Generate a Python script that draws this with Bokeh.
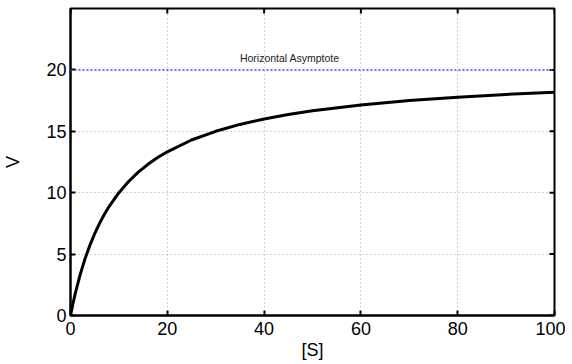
from bokeh.plotting import figure
from bokeh.models import FixedTicker, Span, Range1d
from bokeh.core.properties import value
from bokeh.embed import file_html
from bokeh.resources import INLINE
import math

# Data
S = [0, 0.5, 1, 2, 3, 4, 5, 6, 7, 8, 10, 12, 14, 16, 18, 20, 25, 30, 35, 40, 45, 50, 60, 70, 80, 90, 100]
V = [0, 0.95, 1.82, 3.33, 4.62, 5.71, 6.67, 7.5, 8.24, 8.89, 10, 10.91, 11.67, 12.31, 12.86, 13.33,
     14.29, 15, 15.56, 16, 16.36, 16.67, 17.14, 17.5, 17.78, 18, 18.18]
asymptote = 20
label_x = [35]
label_y = [21]
label_text = ["Horizontal Asymptote"]
x_ticks = [0, 20, 40, 60, 80, 100]
y_ticks = [0, 5, 10, 15, 20]
x_min, x_max = 0, 100
y_min, y_max = 0, 25

FONT = "Liberation Sans"

p = figure(frame_width=484, frame_height=307, output_backend="svg", toolbar_location=None,
           x_range=Range1d(x_min, x_max), y_range=Range1d(y_min, y_max),
           x_axis_label="[S]", y_axis_label="V",
           min_border_left=64, min_border_top=8, min_border_right=11, min_border_bottom=44)
p.background_fill_color = "white"
p.border_fill_color = "white"
p.outline_line_color = "black"
p.outline_line_width = 2

for g in (p.xgrid, p.ygrid):
    g.grid_line_color = "#a0a0a0"
    g.grid_line_dash = "1 3"
    g.grid_line_width = 1
p.xgrid.ticker = FixedTicker(ticks=x_ticks)
p.ygrid.ticker = FixedTicker(ticks=y_ticks)

for ax, ticks in ((p.xaxis[0], x_ticks), (p.yaxis[0], y_ticks)):
    ax.ticker = FixedTicker(ticks=ticks)
    ax.axis_line_color = "black"
    ax.axis_line_width = 2
    ax.major_tick_in = 5
    ax.major_tick_out = 0
    ax.major_tick_line_width = 2
    ax.minor_tick_line_color = None
    ax.major_label_text_font = FONT
    ax.major_label_text_font_size = "18px"
    ax.major_label_text_color = "black"
    ax.axis_label_text_font = FONT
    ax.axis_label_text_font_size = "18px"
    ax.axis_label_text_font_style = "normal"
    ax.axis_label_text_color = "black"

p.xaxis[0].major_label_standoff = 6
p.xaxis[0].axis_label_standoff = 2
p.yaxis[0].major_label_standoff = 4
p.yaxis[0].axis_label_standoff = 20

# inward ticks on the top and right edges (half of each dash is clipped by the frame)
p.scatter(x_ticks, [y_max] * len(x_ticks), marker="dash", size=10, angle=math.pi / 2,
          line_color="black", line_width=2)
p.scatter([x_max] * len(y_ticks), y_ticks, marker="dash", size=10,
          line_color="black", line_width=2)

p.add_layout(Span(location=asymptote, dimension="width", line_color="#4a4ad8",
                  line_dash="2 2", line_width=1.5))

p.line(S, V, line_color="black", line_width=3, line_join="round")

p.text(x=label_x, y=label_y, text=label_text, text_font=value(FONT),
       text_font_size="10.5px", text_baseline="middle", text_align="left", text_color="#222222")

open("out.html", "w").write(file_html(p, INLINE))
